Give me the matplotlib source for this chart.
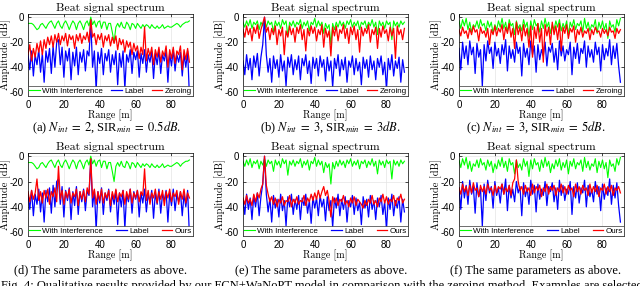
import numpy as np
import matplotlib
matplotlib.use('Agg')
import matplotlib.pyplot as plt

plt.rcParams['axes.unicode_minus'] = False

# spectra, one sample per metre (0..90 m)
interf_a = [-5, -5, -5, -6, -8, -10, -9, -6, -5, -7,
            -9, -6, -4, -3, -6, -9, -5, -3, -7, -9,
            -5, -3, -6, -10, -6, -3, -5, -10, -5, -3,
            -6, -10, -5, -3, -7, 0, -6, -3, -8, -4,
            -3, -9, -4, -4, -10, -5, -5, -12, -20, -8,
            -5, -8, -4, -8, -9, -4, -6, -10, -5, -6,
            -9, -5, -7, -9, -6, -8, -6, -7, -9, -6,
            -8, -9, -7, -9, -8, -6, -9, -8, -7, -8,
            -8, -7, -6, -5, -6, -8, -6, -5, -4, -4,
            -3]
label_a = [-30, -42, -27, -47, -30, -38, -26, -44, -29, -52,
           -27, -36, -25, -45, -23, -40, -20, -18, -38, -24,
           -48, -27, -35, -25, -50, -28, -39, -24, -46, -28,
           -36, -26, -43, -27, -31, -3, -40, -27, -58, -28,
           -37, -25, -46, -29, -35, -26, -44, -30, -38, -27,
           -54, -29, -40, -27, -57, -30, -36, -26, -45, -28,
           -34, -27, -48, -29, -37, -26, -44, -30, -36, -27,
           -49, -29, -38, -26, -45, -30, -35, -27, -52, -29,
           -39, -26, -43, -30, -36, -28, -47, -30, -40, -27,
           -63]
zeroing_a = [-30, -22, -35, -25, -32, -21, -28, -19, -30, -18,
             -25, -16, -22, -15, -24, -14, -20, -13, -22, -15,
             -19, -13, -23, -14, -18, -15, -25, -14, -19, -13,
             -21, -15, -18, -12, -20, -2, -16, -13, -22, -14,
             -18, -13, -24, -15, -19, -14, -23, -16, -21, -15,
             -26, -17, -22, -18, -28, -19, -24, -20, -30, -21,
             -27, -23, -33, -24, -30, -8, -35, -25, -31, -24,
             -38, -26, -32, -24, -36, -27, -31, -23, -40, -26,
             -33, -24, -37, -27, -30, -23, -42, -26, -34, -25,
             -36]
ours_d = [-28, -36, -27, -34, -29, -18, -35, -28, -37, -27,
          -33, -26, -38, -28, -32, -25, -36, -8, -34, -27,
          -38, -28, -33, -26, -37, -29, -32, -26, -39, -28,
          -34, -27, -36, -25, -30, -2, -33, -26, -38, -28,
          -35, -26, -37, -29, -33, -27, -39, -28, -34, -26,
          -36, -29, -32, -27, -38, -28, -34, -26, -37, -29,
          -33, -27, -36, -28, -31, -10, -35, -27, -38, -29,
          -33, -26, -37, -28, -34, -27, -39, -28, -33, -26,
          -36, -29, -32, -27, -38, -28, -34, -26, -37, -29,
          -33]

interf_b = [-4, -8, -3, -7, -2, -9, -4, -6, -3, -10,
            -4, -7, -2, -8, -3, -6, -4, -12, -3, -7,
            -4, -9, -2, -6, -3, -15, -4, -7, -3, -8,
            -4, -6, -2, -9, -4, -7, -3, -11, -4, -6,
            -1, -8, -3, -7, -4, -13, -5, -9, -6, -22,
            -5, -10, -4, -8, -3, -7, -4, -9, -3, -6,
            -2, -8, -4, -7, -3, -10, -4, -6, -3, -9,
            -4, -7, -2, -8, -4, -14, -3, -7, -4, -9,
            -3, -6, -4, -18, -3, -7, -4, -8, -3, -6,
            -4]
label_b = [-35, -46, -30, -42, -33, -50, -31, -40, -29, -47,
           -32, -22, 0, -30, -44, -33, -52, -31, -41, -34,
           -48, -30, -43, -35, -55, -32, -40, -30, -46, -34,
           -42, -31, -50, -33, -39, -30, -45, -35, -53, -32,
           -41, -33, -47, -31, -40, -34, -51, -32, -43, -35,
           -56, -33, -41, -30, -47, -34, -42, -32, -52, -35,
           -40, -31, -46, -33, -43, -36, -54, -32, -41, -34,
           -48, -31, -42, -35, -50, -33, -40, -31, -46, -36,
           -58, -33, -42, -30, -47, -35, -41, -32, -52, -34,
           -44]
zeroing_b = [-10, -16, -7, -14, -9, -19, -8, -13, -6, -17,
             -10, -5, 0, -12, -8, -18, -9, -14, -7, -22,
             -10, -15, -8, -30, -11, -16, -7, -14, -9, -20,
             -8, -13, -6, -18, -10, -27, -9, -15, -7, -13,
             -8, -19, -10, -14, -6, -24, -9, -16, -11, -31,
             -8, -15, -7, -19, -10, -13, -6, -17, -9, -21,
             -8, -14, -7, -18, -10, -28, -8, -15, -9, -13,
             -6, -20, -10, -14, -8, -25, -9, -16, -7, -13,
             -10, -19, -8, -15, -9, -33, -7, -14, -10, -18,
             -9]
ours_e = [-33, -38, -31, -37, -34, -39, -30, -36, -29, -33,
          -26, -22, 0, -23, -30, -36, -32, -38, -33, -40,
          -34, -37, -32, -39, -35, -36, -31, -40, -34, -37,
          -32, -38, -35, -36, -31, -39, -33, -36, -30, -35,
          -29, -34, -27, -33, -28, -24, -31, -27, -35, -48,
          -32, -37, -33, -39, -34, -36, -31, -38, -35, -40,
          -33, -37, -32, -39, -34, -36, -38, -41, -35, -39,
          -34, -37, -31, -38, -35, -40, -33, -36, -30, -37,
          -32, -38, -34, -36, -31, -39, -33, -35, -30, -37,
          -34]

interf_c = [-3, -9, -2, -7, -1, -10, -4, -12, -6, -8,
            -3, -9, -2, -7, -5, -11, -3, -8, -4, -13,
            -6, -10, -3, -8, -1, -9, -4, -12, -2, -7,
            -5, -14, -3, -9, -6, -11, -2, -8, -4, -16,
            -3, -10, -2, -7, -5, -12, -3, -9, -1, -8,
            -4, -13, -6, -10, -3, -8, -2, -11, -5, -9,
            -3, -14, -4, -8, -2, -10, -5, -7, -3, -12,
            -1, -9, -4, -11, -6, -8, -2, -13, -4, -9,
            -3, -10, -5, -17, -3, -8, -6, -12, -2, -7,
            -1]
label_c = [-25, -42, -20, -33, -23, -38, -19, -30, -24, -45,
           -21, -32, -26, -55, -22, -35, -19, -29, -24, -41,
           -20, -31, -25, -37, -22, -30, -18, -43, -23, -33,
           -26, -36, -20, -29, -24, -47, -21, -32, -25, -38,
           -19, -30, -23, -44, -22, -34, -26, -31, -20, -39,
           -24, -28, -21, -36, -25, -42, -19, -31, -23, -35,
           -26, -30, -20, -46, -24, -33, -21, -37, -25, -29,
           -19, -40, -23, -32, -26, -36, -20, -30, -24, -43,
           -22, -34, -25, -31, -18, -38, -23, -33, -21, -39,
           -52]
zeroing_c = [-10, -15, -8, -13, -11, -17, -9, -14, -7, -12,
             -10, -19, -8, -13, -11, -16, -9, -22, -10, -14,
             -7, -15, -9, -12, -6, -18, -8, -13, -5, -16,
             -9, -25, -4, -14, -8, -19, -6, -15, -9, -24,
             -7, -32, -8, -17, -5, -20, -9, -36, -6, -15,
             -8, -22, -4, -14, -7, -18, -5, -27, -8, -13,
             -6, -17, -9, -12, -7, -20, -10, -14, -8, -16,
             -11, -13, -9, -18, -10, -14, -8, -12, -11, -16,
             -9, -13, -10, -15, -8, -12, -11, -17, -9, -13,
             -10]
ours_f = [-25, -30, -22, -28, -24, -31, -23, -29, -21, -27,
          -25, -32, -23, -28, -24, -30, -22, -27, -25, -31,
          -23, -29, -24, -26, -22, -30, -25, -28, -23, -31,
          -21, -18, -3, -20, -27, -24, -30, -23, -28, -25,
          -31, -22, -29, -24, -27, -23, -32, -25, -28, -22,
          -30, -24, -27, -23, -31, -25, -28, -22, -29, -24,
          -30, -23, -27, -25, -32, -22, -28, -24, -30, -23,
          -27, -25, -31, -22, -29, -24, -28, -23, -32, -25,
          -27, -22, -30, -24, -28, -23, -31, -25, -27, -24,
          -29]

panels = [
    ('a', interf_a, label_a, zeroing_a, 'Zeroing', r'(a) $N_{int}\;=\;2$, SIR$_{min}\;=\;0.5dB$.'),
    ('b', interf_b, label_b, zeroing_b, 'Zeroing', r'(b) $N_{int}\;=\;3$, SIR$_{min}\;=\;3dB$.'),
    ('c', interf_c, label_c, zeroing_c, 'Zeroing', r'(c) $N_{int}\;=\;3$, SIR$_{min}\;=\;5dB$.'),
    ('d', interf_a, label_a, ours_d, 'Ours', '(d) The same parameters as above.'),
    ('e', interf_b, label_b, ours_e, 'Ours', '(e) The same parameters as above.'),
    ('f', interf_c, label_c, ours_f, 'Ours', '(f) The same parameters as above.'),
]

W, H = 640, 286
lefts = [28, 243, 459]
rows = [(14, 96), (153, 236)]
cap_x = [107, 330, 536, 101, 321, 536]
cap_y = [128, 271]

fig = plt.figure(figsize=(6.4, 2.86), dpi=100)

for i, (tag, g, b, r, rname, caption) in enumerate(panels):
    col, row = i % 3, i // 3
    top, bot = rows[row]
    ax = fig.add_axes([lefts[col] / W, 1 - bot / H, 165 / W, (bot - top) / H])
    x = np.arange(len(g))
    ax.plot(x, g, color='#00ff00', lw=0.8, label='With Interference')
    ax.plot(x, b, color='#0000ff', lw=0.9, label='Label')
    ax.plot(x, r, color='#ff0000', lw=0.9, label=rname)

    ax.set_xlim(0, 92)
    ax.set_ylim(-63, 2.5)
    ax.set_xticks([0, 20, 40, 60, 80])
    ax.set_yticks([0, -20, -40, -60])
    ax.grid(True, color='#e4e4e4', lw=0.5)
    ax.set_axisbelow(True)
    ax.tick_params(direction='in', length=2, width=0.5, top=True, right=True,
                   labelsize=7, pad=3)
    for lab in ax.get_xticklabels() + ax.get_yticklabels():
        lab.set_family('Liberation Sans')
    for s in ax.spines.values():
        s.set_linewidth(0.5)

    ax.set_title('Beat signal spectrum', family='cmr10', fontsize=8.5, pad=2)
    ax.set_xlabel('Range [m]', family='cmr10', fontsize=7.2)
    ax.xaxis.label.set_va('center')
    ax.xaxis.set_label_coords(0.5, -19 / (bot - top))
    ax.set_ylabel('Amplitude [dB]', family='cmr10', fontsize=7.5)
    ax.yaxis.label.set_va('center')
    ax.yaxis.set_label_coords(-0.137, 0.5)

    leg = ax.legend(loc='lower left', bbox_to_anchor=(0, 0, 1, 0.12), mode='expand',
                    ncol=3, borderaxespad=0, handlelength=1.3, handletextpad=0.3,
                    borderpad=0.15, columnspacing=0.4, fancybox=False, framealpha=1,
                    prop={'family': 'Liberation Sans', 'size': 5.8})
    leg.get_frame().set_edgecolor('#333333')
    leg.get_frame().set_linewidth(0.5)

    fig.text(cap_x[i] / W, 1 - cap_y[row] / H, caption, ha='center', va='center',
             family='Liberation Serif', math_fontfamily='stix', fontsize=9)

fig.text(1 / W, 1 - 279.5 / H,
         'Fig. 4: Qualitative results provided by our FCN+WaNoPT model in comparison '
         'with the zeroing method. Examples are selected',
         ha='left', va='top', family='Liberation Serif', fontsize=9)

plt.savefig('out.png', dpi=100)
plt.close()
